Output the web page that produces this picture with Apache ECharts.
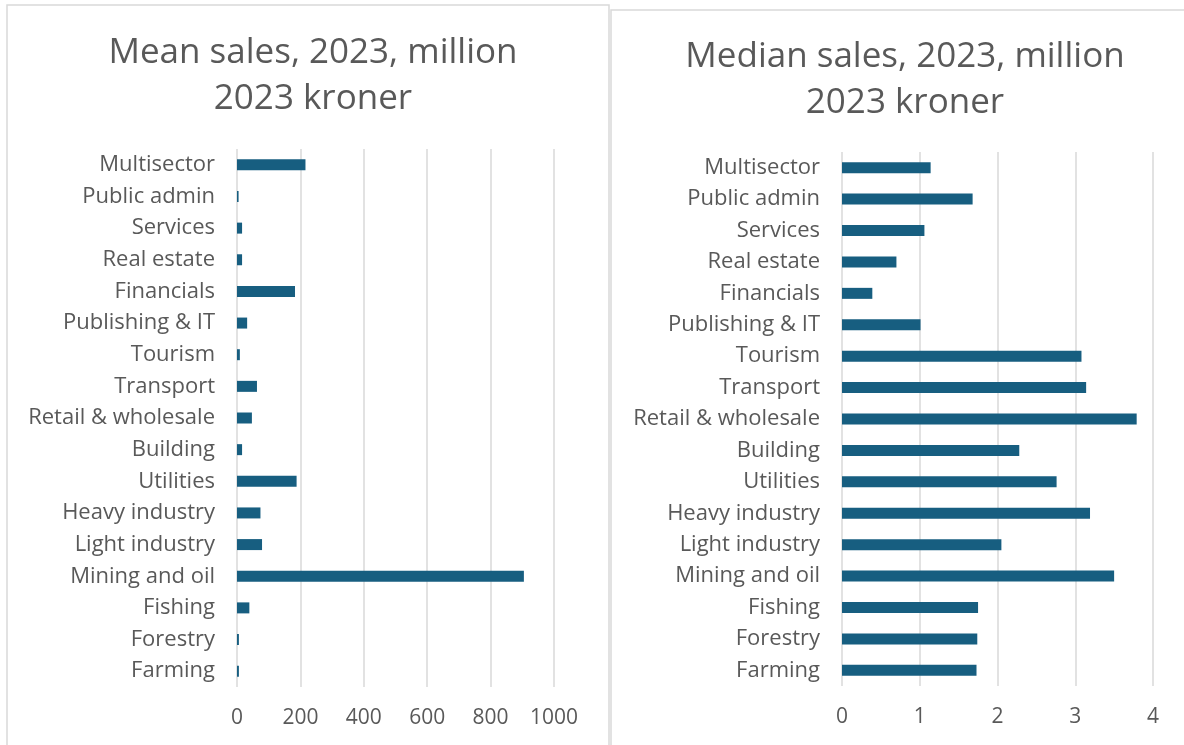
<!DOCTYPE html>
<html>
<head>
<meta charset="utf-8">
<script src="https://cdn.jsdelivr.net/npm/echarts@6/dist/echarts.min.js"></script>
<style>
  html, body { margin: 0; padding: 0; background: #fff; }
  #chart { width: 1184px; height: 745px; }
</style>
</head>
<body>
<div id="chart"></div>
<script>
// sectors, listed bottom to top as the category axis draws them
var sectors = ['Farming', 'Forestry', 'Fishing', 'Mining and oil', 'Light industry',
  'Heavy industry', 'Utilities', 'Building', 'Retail & wholesale', 'Transport',
  'Tourism', 'Publishing & IT', 'Financials', 'Real estate', 'Services',
  'Public admin', 'Multisector'];

// mean sales, million 2023 kroner
var meanSales = [6, 6, 39, 905, 79, 74, 188, 16, 47, 63, 9, 32, 183, 16, 16, 5, 216];

// median sales, million 2023 kroner
var medianSales = [1.73, 1.74, 1.75, 3.50, 2.05, 3.19, 2.76, 2.28, 3.79, 3.14, 3.08,
  1.01, 0.39, 0.70, 1.06, 1.68, 1.14];

var meanTitle = 'Mean sales, 2023, million\n2023 kroner';
var medianTitle = 'Median sales, 2023, million\n2023 kroner';

var textColor = '#595959';
var gridColor = '#d9d9d9';
var barColor = '#175e80';
var font = 'Open Sans';

function valueAxis(idx, max, interval) {
  return {
    type: 'value', gridIndex: idx, min: 0, max: max, interval: interval,
    axisLine: { show: false }, axisTick: { show: false },
    axisLabel: { color: textColor, fontSize: 21, fontFamily: font, margin: 21,
      formatter: function (v) { return String(v); } },
    splitLine: { lineStyle: { color: gridColor, width: 1.5 } }
  };
}

function catAxis(idx) {
  return {
    type: 'category', gridIndex: idx, data: sectors,
    axisLine: { show: false }, axisTick: { show: false },
    axisLabel: { color: textColor, fontSize: 22, fontFamily: font, margin: 22 }
  };
}

var titleStyle = { color: textColor, fontSize: 35, fontWeight: 'normal', fontFamily: font,
  lineHeight: 46, align: 'center' };

var option = {
  animation: false,
  backgroundColor: '#fff',
  graphic: [
    { type: 'rect', shape: { x: 7, y: 5, width: 602, height: 760 },
      style: { fill: 'none', stroke: gridColor, lineWidth: 1.5 } },
    { type: 'rect', shape: { x: 611, y: 10, width: 600, height: 760 },
      style: { fill: 'none', stroke: gridColor, lineWidth: 1.5 } }
  ],
  title: [
    { text: meanTitle, left: 308, top: 25, textAlign: 'center', textStyle: titleStyle },
    { text: medianTitle, left: 900, top: 29, textAlign: 'center', textStyle: titleStyle }
  ],
  grid: [
    { left: 237, right: 630, top: 149, bottom: 58 },
    { left: 842, right: 31, top: 152, bottom: 59 }
  ],
  xAxis: [valueAxis(0, 1000, 200), valueAxis(1, 4, 1)],
  yAxis: [catAxis(0), catAxis(1)],
  series: [
    { type: 'bar', xAxisIndex: 0, yAxisIndex: 0, data: meanSales,
      barWidth: 11, itemStyle: { color: barColor } },
    { type: 'bar', xAxisIndex: 1, yAxisIndex: 1, data: medianSales,
      barWidth: 11, itemStyle: { color: barColor } }
  ]
};

var chart = echarts.init(document.getElementById('chart'));
chart.setOption(option);
window.onresize = chart.resize;
</script>
</body>
</html>
